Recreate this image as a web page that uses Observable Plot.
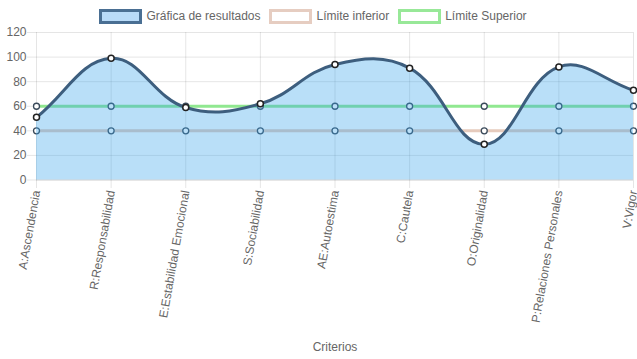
<!DOCTYPE html>
<html><head><meta charset="utf-8">
<script src="https://cdn.jsdelivr.net/npm/d3@7"></script>
<script src="https://cdn.jsdelivr.net/npm/@observablehq/plot@0.6"></script>
<style>
body{margin:0;background:#fff;font-family:"Liberation Sans",Arial,Helvetica,sans-serif;}
#wrap{position:relative;width:637px;height:359px;}
#legend{position:absolute;left:0;top:0;width:637px;height:32px;display:flex;justify-content:center;align-items:center;font-size:12px;color:#666;z-index:2;}
.item{display:flex;align-items:center;margin-right:10px;}
.item svg{margin-left:-1.5px;margin-right:4.5px;display:block;}
#chart{position:absolute;left:0;top:0;}
</style>
</head><body>
<div id="wrap"><div id="legend"></div><div id="chart"></div></div>
<script>
const categorias = ["A:Ascendencia","R:Responsabilidad","E:Estabilidad Emocional","S:Sociabilidad","AE:Autoestima","C:Cautela","O:Originalidad","P:Relaciones Personales","V:Vigor"];
const resultados = [51, 99, 59, 62, 94, 91, 29, 92, 73];
const limiteInferior = [40, 40, 40, 40, 40, 40, 40, 40, 40];
const limiteSuperior = [60, 60, 60, 60, 60, 60, 60, 60, 60];
const yTicks = [0, 20, 40, 60, 80, 100, 120];
const series = ["Gráfica de resultados", "Límite inferior", "Límite Superior"];

const colores = {
  resFill: "#36a2eb", resLine: "#3d5e7e",
  inf: "#e6cbbd", sup: "#90e890"
};

// legend
const legendDefs = [
  {name: series[0], fill: "#b9dbf8", stroke: "#4a6f93"},
  {name: series[1], fill: "#ffffff", stroke: "#e6cdc1"},
  {name: series[2], fill: "#ffffff", stroke: "#98e898"}
];
const legend = document.getElementById("legend");
for (const d of legendDefs) {
  const it = document.createElement("div");
  it.className = "item";
  it.innerHTML = `<svg width="43" height="15"><rect x="1.5" y="1.5" width="40" height="12" fill="${d.fill}" stroke="${d.stroke}" stroke-width="3"/></svg><span>${d.name}</span>`;
  legend.appendChild(it);
}

// Chart.js-like spline (tension 0.4)
function ChartJsCurve(context){ this._context = context; }
ChartJsCurve.prototype = {
  areaStart(){ this._line = 0; },
  areaEnd(){ this._line = NaN; },
  lineStart(){ this._x = []; this._y = []; },
  point(x, y){ this._x.push(+x); this._y.push(+y); },
  lineEnd(){
    const X = this._x, Y = this._y, n = X.length, c = this._context, t = 0.4;
    if (n) {
      this._line ? c.lineTo(X[0], Y[0]) : c.moveTo(X[0], Y[0]);
      if (n === 2) c.lineTo(X[1], Y[1]);
      else if (n > 2) {
        const cp = [];
        for (let i = 0; i < n; i++) {
          const pi = i > 0 ? i - 1 : i, ni = i < n - 1 ? i + 1 : i;
          const d01 = Math.hypot(X[i] - X[pi], Y[i] - Y[pi]);
          const d12 = Math.hypot(X[ni] - X[i], Y[ni] - Y[i]);
          let s01 = d01 / (d01 + d12), s12 = d12 / (d01 + d12);
          if (isNaN(s01)) s01 = 0; if (isNaN(s12)) s12 = 0;
          const fa = t * s01, fb = t * s12, dx = X[ni] - X[pi], dy = Y[ni] - Y[pi];
          cp.push({px: X[i] - fa * dx, py: Y[i] - fa * dy, nx: X[i] + fb * dx, ny: Y[i] + fb * dy});
        }
        for (let i = 0; i < n - 1; i++)
          c.bezierCurveTo(cp[i].nx, cp[i].ny, cp[i + 1].px, cp[i + 1].py, X[i + 1], Y[i + 1]);
      }
    }
    if (this._line || (this._line !== 0 && n === 1)) c.closePath();
    this._line = 1 - this._line;
    this._x = this._y = null;
  }
};
const chartCurve = ctx => new ChartJsCurve(ctx);

const rows = categorias.map((c, i) => ({criterio: c, res: resultados[i], inf: limiteInferior[i], sup: limiteSuperior[i]}));

const plot = Plot.plot({
  width: 637,
  height: 359,
  marginLeft: 36,
  marginRight: 4,
  marginTop: 32,
  marginBottom: 180,
  style: {fontFamily: "'Liberation Sans', Arial, Helvetica, sans-serif", fontSize: "12px", color: "#666", background: "transparent", overflow: "visible"},
  x: {type: "point", domain: categorias, padding: 0, round: false, range: [36, 633]},
  y: {domain: [0, 120], range: [179.5, 32]},
  marks: [
    Plot.gridY(yTicks.filter(v => v !== 0), {stroke: "#000", strokeOpacity: 0.1}),
    Plot.gridX(categorias, {stroke: "#000", strokeOpacity: 0.1}),
    Plot.ruleY([0], {stroke: "#000", strokeOpacity: 0.2}),
    Plot.axisY(yTicks, {tickSize: 9, tickPadding: 1, stroke: "#000", strokeOpacity: 0.1, fill: "#666", fillOpacity: 1, label: null}),
    Plot.axisX({tickSize: 9, tickPadding: 2, tickRotate: -80, stroke: "#000", strokeOpacity: 0.1, fill: "#666", fillOpacity: 1, label: null}),
    Plot.line(rows, {x: "criterio", y: "sup", stroke: colores.sup, strokeWidth: 3, curve: chartCurve}),
    Plot.dot(rows, {x: "criterio", y: "sup", r: 3, fill: "#fff", stroke: "#3a4a5a", strokeWidth: 1.3}),
    Plot.line(rows, {x: "criterio", y: "inf", stroke: colores.inf, strokeWidth: 3, curve: chartCurve}),
    Plot.dot(rows, {x: "criterio", y: "inf", r: 3, fill: "#fff", stroke: "#3a4a5a", strokeWidth: 1.3}),
    Plot.areaY(rows, {x: "criterio", y: "res", fill: colores.resFill, fillOpacity: 0.35, curve: chartCurve}),
    Plot.line(rows, {x: "criterio", y: "res", stroke: colores.resLine, strokeWidth: 3, curve: chartCurve}),
    Plot.dot(rows, {x: "criterio", y: "res", r: 3, fill: "#fff", stroke: "#222", strokeWidth: 1.5}),
    Plot.text(["Criterios"], {frameAnchor: "bottom", dy: 171, fill: "#666", fontSize: 12})
  ]
});
document.getElementById("chart").appendChild(plot);
</script>
</body></html>
